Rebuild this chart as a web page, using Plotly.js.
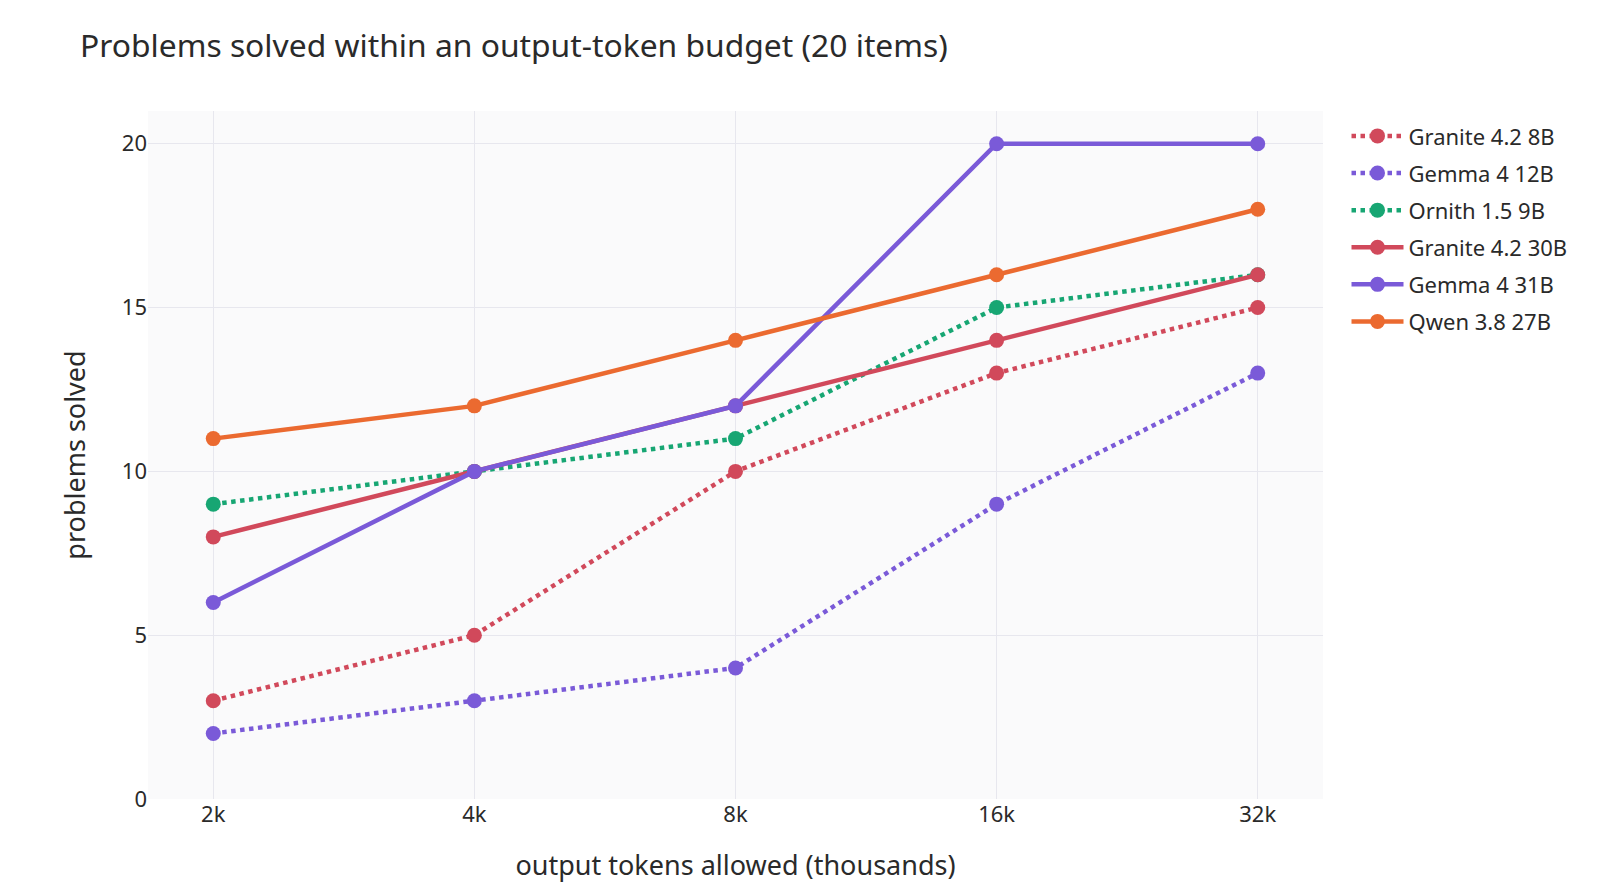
<!DOCTYPE html>
<html>
<head>
<meta charset="utf-8">
<script src="https://cdn.plot.ly/plotly-3.0.1.min.js"></script>
<style>
  html, body { margin: 0; padding: 0; background: #ffffff; }
  #chart { width: 1600px; height: 896px; }
</style>
</head>
<body>
<div id="chart"></div>
<script>
// token budgets (x categories)
var budgets = ['2k', '4k', '8k', '16k', '32k'];

// problems solved out of 20, per model
var granite8b = [3, 5, 10, 13, 15];
var gemma12b = [2, 3, 4, 9, 13];
var ornith9b = [9, 10, 11, 15, 16];
var granite30b = [8, 10, 12, 14, 16];
var gemma31b = [6, 10, 12, 20, 20];
var qwen27b = [11, 12, 14, 16, 18];

var modelNames = ['Granite 4.2 8B', 'Gemma 4 12B', 'Ornith 1.5 9B',
                  'Granite 4.2 30B', 'Gemma 4 31B', 'Qwen 3.8 27B'];

var red = '#d1495b';
var purple = '#7a5ad8';
var green = '#17a673';
var orange = '#eb6a30';

function makeTrace(name, values, color, dash) {
  return {
    x: budgets,
    y: values,
    name: name,
    legendgroup: name, // one group per model so the legend gets a bit more spacing
    type: 'scatter',
    mode: 'lines+markers',
    line: { color: color, width: 4.5, dash: dash },
    marker: { color: color, size: 15 }
  };
}

var data = [
  makeTrace(modelNames[0], granite8b, red, 'dot'),
  makeTrace(modelNames[1], gemma12b, purple, 'dot'),
  makeTrace(modelNames[2], ornith9b, green, 'dot'),
  makeTrace(modelNames[3], granite30b, red, 'solid'),
  makeTrace(modelNames[4], gemma31b, purple, 'solid'),
  makeTrace(modelNames[5], qwen27b, orange, 'solid')
];

var layout = {
  width: 1600,
  height: 896,
  font: { family: 'Noto Sans, sans-serif', size: 22, color: '#2a2a2a' },
  paper_bgcolor: '#ffffff',
  plot_bgcolor: '#fafafb',
  margin: { l: 148, r: 277, t: 111, b: 97 },
  title: {
    text: 'Problems solved within an output-token budget (20 items)',
    font: { size: 31.8, color: '#2a2a2a' },
    xref: 'container', x: 0.05, xanchor: 'left',
    yref: 'container', y: 0.949, yanchor: 'middle'
  },
  xaxis: {
    type: 'category',
    range: [-0.25, 4.25],
    title: { text: 'output tokens allowed (thousands)', font: { size: 27 }, standoff: 29 },
    showgrid: true,
    gridcolor: '#e7e7ee',
    zeroline: false,
    showline: false,
    ticks: '',
    tickfont: { size: 22 }
  },
  yaxis: {
    range: [0, 21],
    tickvals: [0, 5, 10, 15, 20],
    title: { text: 'problems solved', font: { size: 27 }, standoff: 28 },
    showgrid: true,
    gridcolor: '#e7e7ee',
    zeroline: false,
    showline: false,
    ticks: '',
    tickfont: { size: 22 }
  },
  legend: {
    x: 1.02, y: 0.994, xanchor: 'left', yanchor: 'top',
    font: { size: 22 },
    itemwidth: 52,
    tracegroupgap: 5.5
  },
  showlegend: true
};

Plotly.newPlot('chart', data, layout, { displayModeBar: false, staticPlot: true });
</script>
</body>
</html>
